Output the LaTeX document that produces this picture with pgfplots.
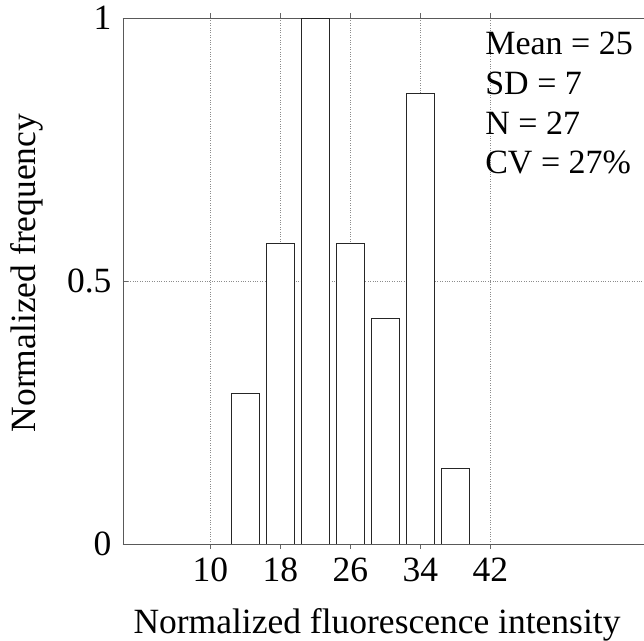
\documentclass[border=0pt]{standalone}
\usepackage{fontspec}
\setmainfont{Liberation Serif}
\usepackage{pgfplots}
\pgfplotsset{compat=1.18}
\begin{document}
\begin{tikzpicture}
\begin{axis}[
  scale only axis,
  width=521pt, height=526pt,
  xmin=0, xmax=59.55, ymin=0, ymax=1,
  axis x line*=box, axis y line*=left,
  axis line style={black!65, line width=0.9pt},
  xtick={10,18,26,34,42},
  ytick={0,0.5,1},
  yticklabels={0,0.5,1},
  tick align=inside,
  major tick length=5pt,
  tick style={black!60, line width=0.6pt},
  xmajorgrids, ymajorgrids,
  major grid style={black!45, dotted, line width=0.7pt},
  /pgf/number format/assume math mode=true,
  tick label style={font=\fontsize{35.5}{42}\selectfont},
  xticklabel style={yshift=-5pt},
  yticklabel style={xshift=-8pt},
  every axis x label/.style={at={(axis description cs:0.4875,-0.1692)}, anchor=base, inner sep=0pt, font=\fontsize{35.5}{42}\selectfont},
  every axis y label/.style={at={(axis description cs:-0.1689,0.515)}, anchor=base, rotate=90, inner sep=0pt, font=\fontsize{35.5}{42}\selectfont},
  xlabel={Normalized fluorescence intensity},
  ylabel={Normalized frequency},
  ybar, bar width=3.2,
]
\addplot[draw=black!85, fill=white, line width=0.8pt] coordinates {
  (14,0.2857) (18,0.5714) (22,1.0) (26,0.5714) (30,0.4286) (34,0.8571) (38,0.1429)
};
\node[anchor=north west, inner sep=0pt, align=left, font=\fontsize{34}{39.7}\selectfont]
  at (axis description cs:0.695,0.9734) {Mean = 25\\SD = 7\\N = 27\\CV = 27\%};
\end{axis}
\pgfresetboundingbox
\path[use as bounding box] ([xshift=-123pt,yshift=-97pt]current axis.south west) rectangle ([yshift=18pt]current axis.north east);
\end{tikzpicture}
\end{document}
